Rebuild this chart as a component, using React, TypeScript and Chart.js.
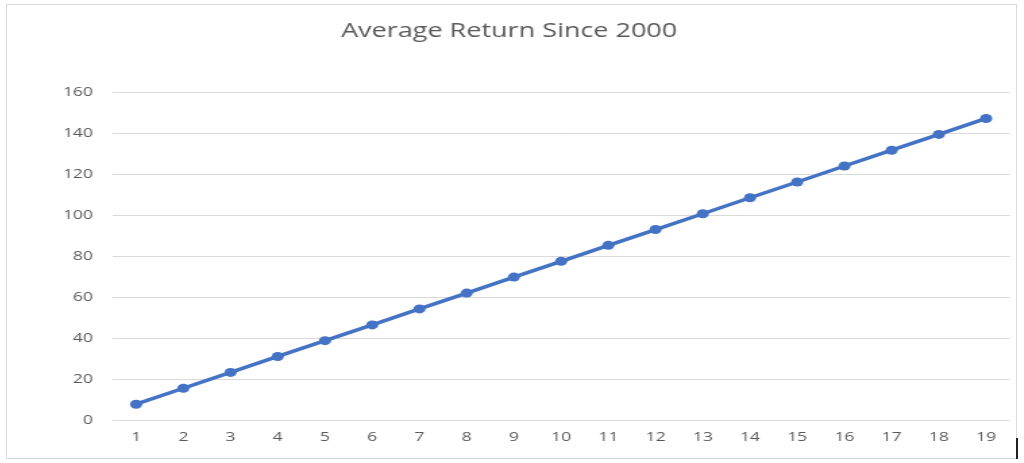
import React, { useEffect, useRef } from "react";
import { Chart, registerables } from "chart.js";

Chart.register(...registerables);

const categories = ["1", "2", "3", "4", "5", "6", "7", "8", "9", "10", "11", "12", "13", "14", "15", "16", "17", "18", "19"];
const averageReturn = [7.7, 15.5, 23.2, 31, 38.7, 46.4, 54.2, 61.9, 69.7, 77.4, 85.2, 92.9, 100.6, 108.4, 116.1, 123.9, 131.6, 139.3, 147.1];
const yTickMin = 0;
const yTickMax = 160;
const yTickStep = 20;
const chartTitle = "Average Return Since 2000";

const STRETCH = 1.35;
const FRAME_W = 1011;
const FRAME_H = 455;
const INNER_W = FRAME_W / STRETCH;
const PLOT_LEFT = 106.5 / STRETCH;
const PLOT_RIGHT = 1007.5 / STRETCH;

export default function App() {
  const ref = useRef<HTMLCanvasElement | null>(null);

  useEffect(() => {
    if (!ref.current) return;
    const chart = new Chart(ref.current, {
      type: "line",
      data: {
        labels: categories,
        datasets: [
          {
            label: "Average Return",
            data: averageReturn,
            borderColor: "#4472C4",
            backgroundColor: "#4472C4",
            borderWidth: 3.5,
            pointRadius: 4.5,
            pointBorderWidth: 0,
            pointBackgroundColor: "#4472C4",
            tension: 0,
          },
        ],
      },
      options: {
        responsive: false,
        animation: false,
        layout: { padding: { left: 0, right: INNER_W - PLOT_RIGHT, top: 0, bottom: 0 } },
        plugins: {
          legend: { display: false },
          tooltip: { enabled: false },
          title: {
            display: true,
            text: chartTitle,
            color: "#595959",
            font: { family: "'Open Sans', sans-serif", size: 20, weight: "normal" },
            padding: { top: 15, bottom: 49 },
          },
        },
        scales: {
          x: {
            type: "category",
            offset: true,
            grid: { display: false, drawTicks: false },
            border: { display: false },
            ticks: {
              color: "#595959",
              font: { family: "'Open Sans', sans-serif", size: 13 },
              padding: 9,
              maxRotation: 0,
              autoSkip: false,
            },
            afterFit: (scale: any) => {
              scale.height = 39;
            },
          },
          y: {
            min: yTickMin,
            max: yTickMax,
            grid: { color: "#d9d9d9", lineWidth: 1, drawTicks: false },
            border: { display: false },
            ticks: {
              stepSize: yTickStep,
              color: "#595959",
              font: { family: "'Open Sans', sans-serif", size: 13 },
              padding: 14.4,
            },
            afterFit: (scale: any) => {
              scale.width = PLOT_LEFT;
            },
          },
        },
      },
    });
    return () => chart.destroy();
  }, []);

  return (
    <div>
      <div
        style={{
          position: "fixed",
          left: 6,
          top: 4,
          width: INNER_W,
          height: FRAME_H,
          transform: `scaleX(${STRETCH})`,
          transformOrigin: "0 0",
        }}
      >
        <canvas ref={ref} width={INNER_W} height={FRAME_H} style={{ display: "block" }} />
      </div>
      <div
        style={{
          position: "fixed",
          left: 6,
          top: 4,
          width: FRAME_W,
          height: FRAME_H,
          border: "1px solid #d9d9d9",
          boxSizing: "border-box",
          pointerEvents: "none",
        }}
      />
      <div
        style={{
          position: "fixed",
          left: 1016,
          top: 438,
          width: 2,
          height: 21,
          background: "#222",
        }}
      />
    </div>
  );
}
